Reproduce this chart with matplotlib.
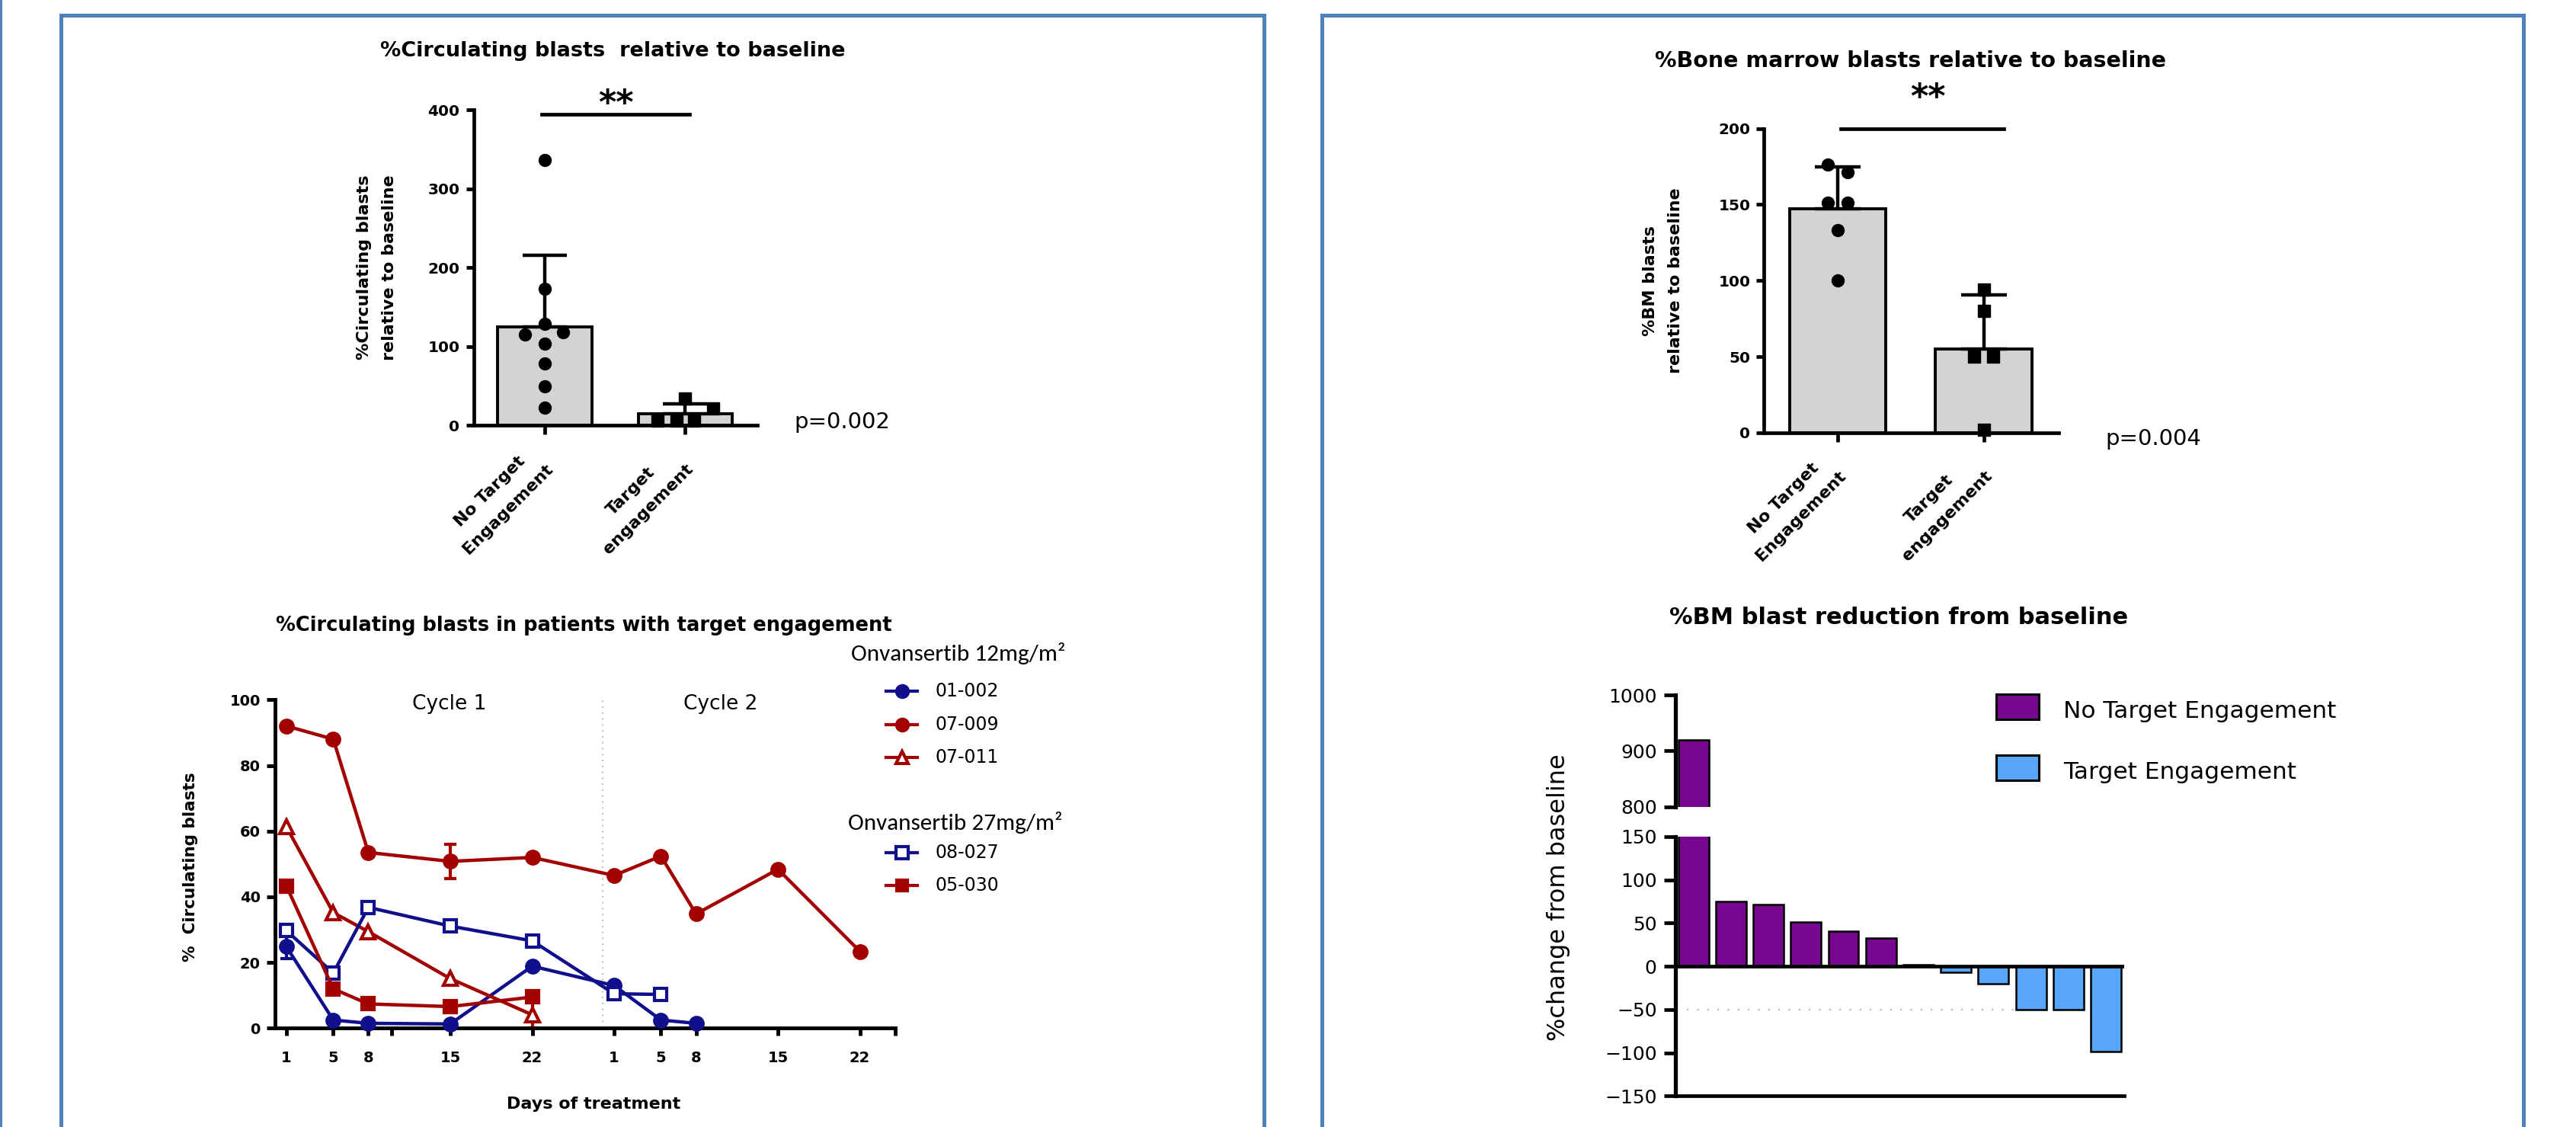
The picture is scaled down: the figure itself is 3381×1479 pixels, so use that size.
import matplotlib
matplotlib.use("Agg")
import numpy as np
import matplotlib.pyplot as plt
import matplotlib.font_manager as fm
from matplotlib.patches import Rectangle

W, H, DPI = 3381, 1479, 100

# --- top left: % circulating blasts relative to baseline ---
GROUPS = ["No Target\nEngagement", "Target\nengagement"]
PB_NO_TE = [336, 173, 129, 115, 118, 104, 79, 50, 23]
PB_TE = [34, 22, 6, 6, 6]
PB_P = "p=0.002"

# --- top right: % BM blasts relative to baseline ---
BM_NO_TE = [176, 171, 151, 151, 133, 100]
BM_TE = [94, 80, 50, 50, 2]
BM_P = "p=0.004"

# --- bottom left: circulating blasts over time (study day, cycle 2 day 1 = 29) ---
DAY_01_002 = [1, 5, 8, 15, 22, 29, 33, 36]
VAL_01_002 = [24.8, 2.5, 1.5, 1.3, 18.9, 13.0, 2.5, 1.5]
ERR_01_002 = [3.5, 0, 0, 0, 0, 0, 0, 0]

DAY_07_009 = [1, 5, 8, 15, 22, 29, 33, 36, 43, 50]
VAL_07_009 = [92.0, 88.0, 53.5, 50.8, 52.0, 46.5, 52.4, 34.8, 48.4, 23.4]
ERR_07_009 = [0, 0, 0, 5.3, 0, 0, 0, 0, 0, 0]

DAY_07_011 = [1, 5, 8, 15, 22]
VAL_07_011 = [61.3, 35.2, 29.4, 15.1, 4.1]
ERR_07_011 = [0, 0, 0, 0, 4.1]

DAY_08_027 = [1, 5, 8, 15, 22, 29, 33]
VAL_08_027 = [29.7, 16.8, 36.8, 31.1, 26.6, 10.5, 10.3]
ERR_08_027 = [0, 0, 0, 0, 0, 0, 0]

DAY_05_030 = [1, 5, 8, 15, 22]
VAL_05_030 = [43.3, 12.0, 7.4, 6.6, 9.5]
ERR_05_030 = [0, 0, 0, 0, 0]

DOSE_12 = "Onvansertib 12mg/m²"
DOSE_27 = "Onvansertib 27mg/m²"
TICK_DAYS = [1, 5, 8, 10, 15, 22, 29, 33, 36, 43, 50, 53]
TICK_LABELS = ["1", "5", "8", "", "15", "22", "1", "5", "8", "15", "22", ""]
CYCLE_LEN = 28

# --- bottom right: waterfall ---
WF_CHANGE = [920, 75, 71, 51, 41, 33, 2, -7, -20, -50, -50, -99]
WF_TE = [False] * 7 + [True] * 5
WF_LEGEND = ["No Target Engagement", "Target Engagement"]

# colours / fonts
NAVY = "#10108C"
RED = "#A30000"
PURPLE = "#76088F"
LBLUE = "#58A6FA"
GREY = "#D3D3D3"
FRAME = "#4F81BD"

names = {f.name for f in fm.fontManager.ttflist}
CAL = "Carlito" if "Carlito" in names else "Lato"
plt.rcParams["font.family"] = "DejaVu Sans"

fig = plt.figure(figsize=(W / DPI, H / DPI), dpi=DPI)


def px_axes(x0, y0, x1, y1):
    return fig.add_axes([x0 / W, 1 - y1 / H, (x1 - x0) / W, (y1 - y0) / H])


def style(ax, lw=3.4):
    for s in ["top", "right"]:
        ax.spines[s].set_visible(False)
    for s in ["left", "bottom"]:
        ax.spines[s].set_linewidth(lw)


# overlay in pixel coords for frames, titles and legend keys (drawn on top)
ov = px_axes(0, 0, W, H)
ov.set_xlim(0, W)
ov.set_ylim(H, 0)
ov.axis("off")
ov.set_zorder(10)
for x0, x1 in [(80, 1659), (1735, 3312)]:
    ov.plot([x0, x0, x1, x1], [H + 20, 20, 20, H + 20], color=FRAME, lw=3.6,
            solid_joinstyle="miter")
ov.plot([1.5, 1.5], [0, H], color=FRAME, lw=2.2)


def bar_panel(ax, pts, offs, width, ymax, yticks, capsize):
    means = [np.mean(p) for p in pts]
    sds = [np.std(p, ddof=1) for p in pts]
    x = np.arange(len(pts))
    ax.bar(x, means, width=width, color=GREY, edgecolor="black", linewidth=2.8, zorder=2)
    ax.errorbar(x, means, yerr=[np.zeros(len(x)), sds], fmt="none", ecolor="black",
                elinewidth=3.2, capsize=capsize, capthick=3.2, zorder=3)
    ax.plot(x[0] + np.array(offs[0]), pts[0], "o", color="black", ms=11.5, zorder=4,
            clip_on=False)
    ax.plot(x[1] + np.array(offs[1]), pts[1], "s", color="black", ms=11, zorder=4,
            clip_on=False)
    style(ax)
    ax.set_xlim(-0.505, 1.512)
    ax.set_ylim(0, ymax)
    ax.set_yticks(yticks)
    ax.set_yticklabels([str(t) for t in yticks], fontweight="bold")
    ax.tick_params(axis="y", length=7, width=3.4, pad=6, labelsize=14.5)
    ax.set_xticks(x)
    ax.tick_params(axis="x", length=8.5, width=3.4, labelbottom=False)
    for xi, lab in zip(x, GROUPS):
        ax.annotate(lab, xy=(xi, 0), xycoords=("data", "axes fraction"),
                    xytext=(-60, -98), textcoords="offset pixels", rotation=45,
                    ha="center", va="center", multialignment="center",
                    fontsize=16, fontweight="bold", linespacing=1.8)


# ---------------- panel A ----------------
axa = px_axes(621.5, 144, 994, 558.4)
bar_panel(axa, [PB_NO_TE, PB_TE],
          [[0, 0, 0, -0.14, 0.13, 0, 0, 0, 0], [0, 0.2, -0.2, -0.064, 0.064]],
          0.67, 400, [0, 100, 200, 300, 400], 21)
axa.plot([-0.02, 1.03], [394, 394], color="black", lw=3.4, clip_on=False)
axa.text(0.506, 395, "**", ha="center", va="baseline", fontsize=32, fontweight="bold")
axa.text(1.129, 0.011, PB_P, transform=axa.transAxes, fontsize=21, ha="left", va="center")
axa.text(-0.342, 0.5, "%Circulating blasts\nrelative to baseline", transform=axa.transAxes,
         rotation=90, ha="center", va="center", fontsize=16, fontweight="bold",
         linespacing=1.8)
ov.text(804, 67, "%Circulating blasts  relative to baseline", ha="center", va="center",
        fontsize=19.5, fontweight="bold")

# ---------------- panel B ----------------
axb = px_axes(2315.4, 168.5, 2701.7, 567.9)
bar_panel(axb, [BM_NO_TE, BM_TE],
          [[-0.066, 0.066, -0.066, 0.066, 0, 0], [0, 0, -0.066, 0.066, 0]],
          0.66, 200, [0, 50, 100, 150, 200], 21.5)
axb.plot([0.018, 1.14], [200, 200], color="black", lw=3.4, clip_on=False)
axb.text(0.617, 213.6, "**", ha="center", va="baseline", fontsize=32, fontweight="bold")
axb.text(1.159, -0.02, BM_P, transform=axb.transAxes, fontsize=21, ha="left", va="center")
axb.text(-0.344, 0.5, "%BM blasts\nrelative to baseline", transform=axb.transAxes,
         rotation=90, ha="center", va="center", fontsize=16, fontweight="bold",
         linespacing=1.8)
ov.text(2507.7, 79.8, "%Bone marrow blasts relative to baseline", ha="center",
        va="center", fontsize=20.5, fontweight="bold")

# ---------------- panel C ----------------
series = [
    ("01-002", DAY_01_002, VAL_01_002, ERR_01_002, NAVY, "o", NAVY, 12),
    ("07-009", DAY_07_009, VAL_07_009, ERR_07_009, RED, "o", RED, 12),
    ("07-011", DAY_07_011, VAL_07_011, ERR_07_011, RED, "^", "white", 13),
    ("08-027", DAY_08_027, VAL_08_027, ERR_08_027, NAVY, "s", "white", 12),
    ("05-030", DAY_05_030, VAL_05_030, ERR_05_030, RED, "s", RED, 11),
]
axc = px_axes(360.6, 918.3, 1174.7, 1349.4)
axc.axvline(CYCLE_LEN, color="#BBBBBB", lw=1.4, ls=(0, (1, 3)), zorder=1)
for name, d, v, e, col, mk, mfc, ms in series:
    axc.plot(d, v, color=col, lw=3.2, marker=mk, ms=ms, mfc=mfc, mec=col, mew=3,
             zorder=3, clip_on=False)
    d, v, e = np.array(d), np.array(v), np.array(e)
    has = e > 0
    if has.any():
        axc.errorbar(d[has], v[has], yerr=e[has], fmt="none", ecolor=col, elinewidth=3,
                     capsize=5.5, capthick=3, zorder=2, clip_on=False)
style(axc, 3.5)
axc.set_xlim(0, 53)
axc.set_ylim(0, 100)
axc.set_yticks([0, 20, 40, 60, 80, 100])
axc.set_yticklabels(["0", "20", "40", "60", "80", "100"], fontweight="bold")
axc.set_xticks(TICK_DAYS)
axc.set_xticklabels(TICK_LABELS, fontweight="bold")
axc.tick_params(axis="y", length=8, width=3.5, pad=5.5, labelsize=14)
axc.tick_params(axis="x", length=7, width=3.5, pad=14, labelsize=14)
axc.text(14.9, 98.7, "Cycle 1", ha="center", va="center", fontsize=19)
axc.text(38.1, 98.7, "Cycle 2", ha="center", va="center", fontsize=19)
ov.text(766.5, 820.8, "%Circulating blasts in patients with target engagement",
        ha="center", va="center", fontsize=18.5, fontweight="bold")
ov.text(779, 1449, "Days of treatment", ha="center", va="center", fontsize=16,
        fontweight="bold")
ov.text(250, 1138, "%  Circulating blasts", ha="center", va="center", rotation=90,
        fontsize=15.5, fontweight="bold")

# legend for panel C
ov.text(1117, 857, DOSE_12, ha="left", va="center", fontsize=22.5, family=CAL)
ov.text(1113, 1079, DOSE_27, ha="left", va="center", fontsize=22.5, family=CAL)
for (name, d, v, e, col, mk, mfc, ms), y in zip(series, [907, 951, 994, 1119, 1162]):
    ov.plot([1163, 1204], [y, y], color=col, lw=3)
    ov.plot([1184], [y], marker=mk, ms=ms - 1, mfc=mfc, mec=col, mew=3, color=col)
    ov.text(1228, y, name, ha="left", va="center", fontsize=17)

# ---------------- panel D (waterfall, broken axis) ----------------
axd_t = px_axes(2199, 912.4, 2788.2, 1058.5)
axd_b = px_axes(2199, 1097.8, 2788.2, 1438.3)
xw = np.arange(len(WF_CHANGE))
cols = [LBLUE if te else PURPLE for te in WF_TE]
for ax in (axd_t, axd_b):
    ax.bar(xw, WF_CHANGE, width=0.81, color=cols, edgecolor="black", linewidth=1.8,
           zorder=2)
    ax.set_xlim(-0.48, 11.49)
    for s in ["top", "right"]:
        ax.spines[s].set_visible(False)
    ax.spines["left"].set_linewidth(3.8)
    ax.set_xticks([])
    ax.tick_params(axis="y", length=11, width=3.4, pad=6.5, labelsize=18)
axd_t.spines["bottom"].set_visible(False)
axd_b.spines["bottom"].set_linewidth(3.4)
axd_t.set_ylim(800, 1000)
axd_t.set_yticks([800, 900, 1000])
axd_b.set_ylim(-150, 150)
axd_b.set_yticks([-150, -100, -50, 0, 50, 100, 150])
axd_b.axhline(0, color="black", lw=3.4, zorder=3)
axd_b.hlines(-50, -0.17, 8.54, color="#BBBBBB", lw=1.6, linestyles=(0, (1, 5)), zorder=1)
ov.text(2491.7, 810.7, "%BM blast reduction from baseline", ha="center", va="center",
        fontsize=22, fontweight="bold")
ov.text(2046, 1178, "%change from baseline", ha="center", va="center", rotation=90,
        fontsize=23)
for lab, col, y in zip(WF_LEGEND, [PURPLE, LBLUE], [927.5, 1007.4]):
    ov.add_patch(Rectangle((2620, y - 16.5), 56, 33, facecolor=col, edgecolor="black",
                           lw=2.2))
    ov.text(2708, y + 6, lab, ha="left", va="center", fontsize=22.5)

fig.savefig("out.png", dpi=DPI)
